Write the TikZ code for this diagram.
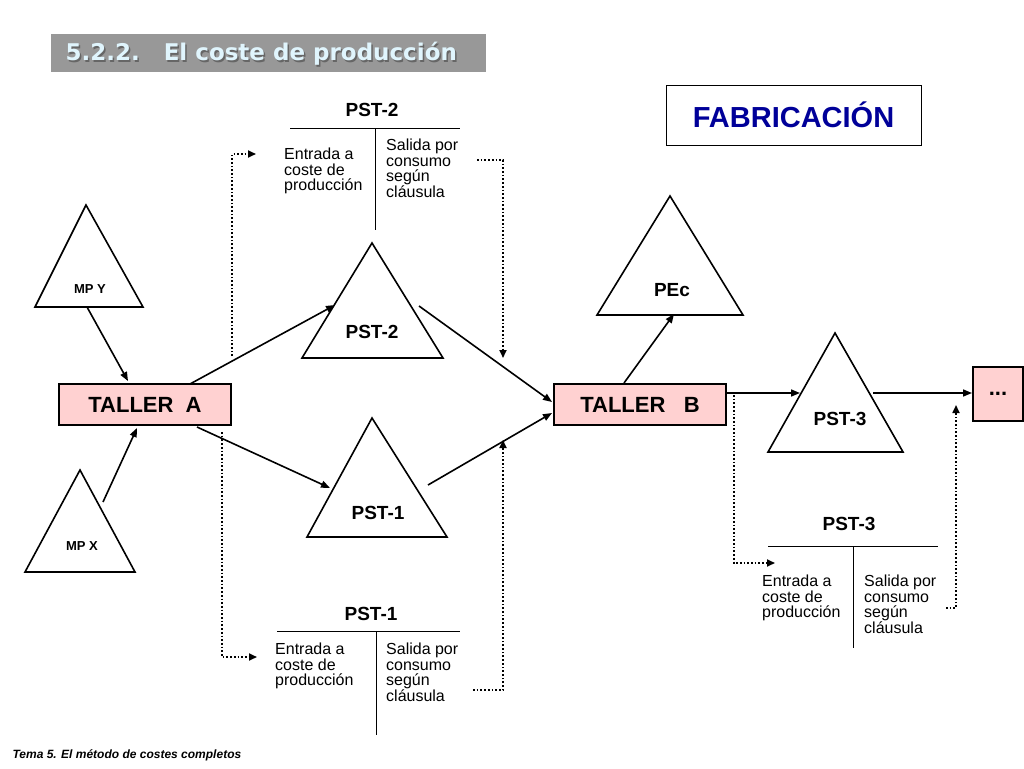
\documentclass[tikz,border=0pt]{standalone}
\usepackage{fontspec}
\setmainfont{Liberation Sans}
\newfontfamily\verd{DejaVu Sans}
\usetikzlibrary{arrows.meta,shadows}
\begin{document}
\begin{tikzpicture}[x=1pt,y=-1pt,
 tri/.style={draw,line width=1.6pt,line join=miter},
 taller/.style={draw,line width=2.4pt,fill=red!18,minimum height=41pt,font=\fontsize{22}{22}\selectfont\bfseries},
 arr/.style={-{Triangle[length=9pt,width=7pt]},line width=1.6pt},
 dot/.style={dotted,line width=1.7pt,-{Triangle[length=8pt,width=7pt]}},
 lbl/.style={font=\fontsize{19}{19}\selectfont\bfseries},
 small/.style={font=\fontsize{16}{15.5}\selectfont,align=left,anchor=north west,inner sep=0pt},
 tl/.style={line width=1pt}]
\useasboundingbox (0,0) rectangle (1024,768);
\fill[white] (0,0) rectangle (1024,768);
% header
\fill[gray!85!black!70] (51,34) rectangle (486,72);
\node[anchor=west,text=black!60,font=\verd\fontsize{23}{23}\selectfont\bfseries] at (63.5,55.5) {5.2.2.\hspace{24pt}El coste de producción};
\node[anchor=west,text=cyan!12,font=\verd\fontsize{23}{23}\selectfont\bfseries] (hdr) at (62,54) {5.2.2.\hspace{24pt}El coste de producción};
\node[draw,line width=0.8pt,minimum width=255pt,minimum height=60pt,text=blue!60!black,font=\fontsize{29}{29}\selectfont\bfseries] (fab) at (793.5,115) {FABRICACIÓN};
% triangles
\draw[tri] (86,205) -- (143,307) -- (35,307) -- cycle;
\node[font=\fontsize{13}{13}\selectfont\bfseries] (mpy) at (90,289) {MP Y};
\draw[tri] (80,470) -- (135,572) -- (25,572) -- cycle;
\node[font=\fontsize{13}{13}\selectfont\bfseries] (mpx) at (82,546) {MP X};
\draw[tri] (372,243) -- (443,358) -- (302,358) -- cycle;
\node[lbl] (p2) at (372,332) {PST-2};
\draw[tri] (372,418) -- (447,537) -- (307,537) -- cycle;
\node[lbl] (p1) at (378,513) {PST-1};
\draw[tri] (670,196) -- (743,315) -- (597,315) -- cycle;
\node[lbl] (pec) at (672,290) {PEc};
\draw[tri] (835,333) -- (903,452) -- (768,452) -- cycle;
\node[lbl] (p3) at (840,419) {PST-3};
% boxes
\node[taller,minimum width=172pt] (ta) at (145,404.5) {TALLER\ \ A};
\node[taller,minimum width=172pt] (tb) at (640,404.5) {TALLER\ \ \ B};
\node[taller,minimum width=50pt,minimum height=54pt] (dd) at (998,394) {\fontsize{22}{22}\selectfont\bfseries ...};
% arrows
\coordinate (a1) at (87,307); \coordinate (b1) at (128,381);
\draw[arr] (a1) -- (b1);
\coordinate (a2) at (103,502); \coordinate (b2) at (137,428);
\draw[arr] (a2) -- (b2);
\coordinate (a3) at (190,384); \coordinate (b3) at (335,305);
\draw[arr] (a3) -- (b3);
\coordinate (a4) at (197,427); \coordinate (b4) at (330,488);
\draw[arr] (a4) -- (b4);
\coordinate (a5) at (419,306); \coordinate (b5) at (552,402);
\draw[arr] (a5) -- (b5);
\coordinate (a6) at (428,485); \coordinate (b6) at (552,413);
\draw[arr] (a6) -- (b6);
\coordinate (a7) at (624,383); \coordinate (b7) at (674,314);
\draw[arr] (a7) -- (b7);
\coordinate (a8) at (726,393); \coordinate (b8) at (800,393);
\draw[arr] (a8) -- (b8);
\coordinate (a9) at (873,393); \coordinate (b9) at (972,393);
\draw[arr] (a9) -- (b9);
% dotted
\draw[dot] (232,356) -- (232,154) -- (256,154);
\draw[dot] (477,160) -- (503,160) -- (503,358);
\draw[dot] (222,432) -- (222,657) -- (257,657);
\draw[dot] (473,690) -- (503,690) -- (503,440);
\draw[dot] (734,395) -- (734,563) -- (775,563);
\draw[dot] (946,608) -- (956,608) -- (956,405);
% T accounts
\node[lbl] (t2) at (372,110) {PST-2};
\draw[tl] (290,128) -- (460,128); \draw[tl] (375,128) -- (375,230);
\node[small] (t2l) at (284,148) {Entrada a\\coste de\\producción};
\node[small] (t2r) at (386,139) {Salida por\\consumo\\según\\cláusula};
\node[lbl] (t1) at (371,614) {PST-1};
\draw[tl] (277,631) -- (460,631); \draw[tl] (376,631) -- (376,735);
\node[small] (t1l) at (275,643) {Entrada a\\coste de\\producción};
\node[small] (t1r) at (386,643) {Salida por\\consumo\\según\\cláusula};
\node[lbl] (t3) at (849,524) {PST-3};
\draw[tl] (768,546) -- (938,546); \draw[tl] (853,546) -- (853,648);
\node[small] (t3l) at (762,575) {Entrada a\\coste de\\producción};
\node[small] (t3r) at (864,575) {Salida por\\consumo\\según\\cláusula};
% footer
\node[anchor=west,font=\fontsize{12}{12}\selectfont\bfseries\itshape] (ft) at (9,755) {Tema 5. El método de costes completos};
\end{tikzpicture}
\end{document}
